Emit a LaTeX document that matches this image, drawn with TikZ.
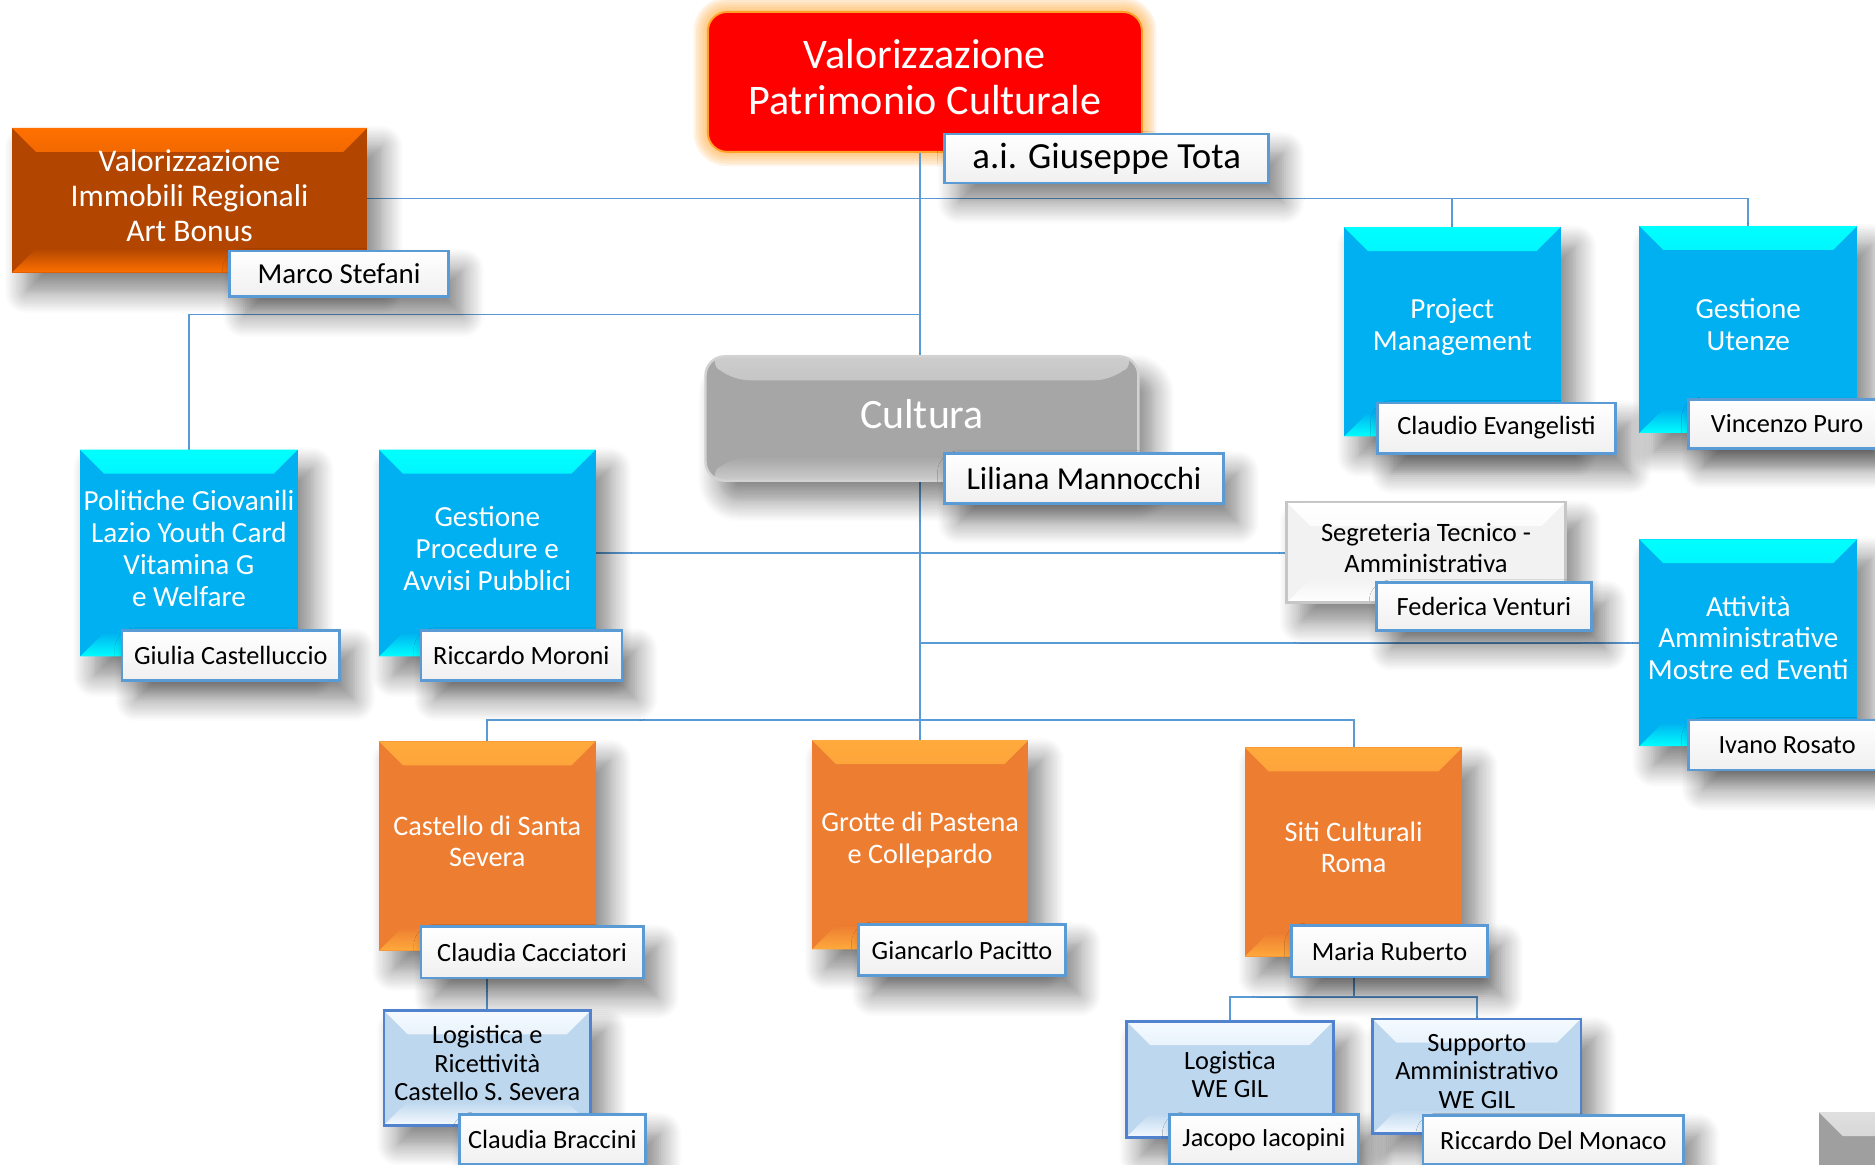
\documentclass[tikz,border=0pt]{standalone}
\usepackage{fontspec}
\setmainfont{Carlito}
\usetikzlibrary{shadows.blur}
\pgfdeclarelayer{bg}
\pgfsetlayers{bg,main}
\definecolor{Ln}{RGB}{91,155,213}
\definecolor{Rd}{RGB}{255,0,0}
\definecolor{Gl}{RGB}{255,160,40}
\definecolor{Ob}{RGB}{178,70,0}
\definecolor{Ol}{RGB}{255,112,0}
\definecolor{Cy}{RGB}{0,176,240}
\definecolor{Cl}{RGB}{0,255,255}
\definecolor{Or}{RGB}{237,125,49}
\definecolor{Oy}{RGB}{255,170,60}
\definecolor{Lb}{RGB}{189,215,238}
\definecolor{Lw}{RGB}{245,250,255}
\definecolor{Lf}{RGB}{80,130,205}
\definecolor{Gy}{RGB}{166,166,166}
\definecolor{Gw}{RGB}{205,205,205}
\definecolor{Sg}{RGB}{242,242,242}
\definecolor{Tg}{RGB}{240,240,240}
\tikzset{
  every node/.style={align=center, inner sep=0pt, outer sep=0pt},
  link/.style={draw=Ln, line width=0.8pt},
  soft/.style={blur shadow={shadow xshift=6pt, shadow yshift=-8pt, shadow blur radius=9pt, shadow blur steps=12, shadow opacity=50}},
  bevel/.style 2 args={fill=#1, path picture={
    \shade[top color=#2, bottom color=#1]
      (path picture bounding box.north west) -- (path picture bounding box.north east)
      -- ([shift={(-10pt,-10pt)}]path picture bounding box.north east)
      -- ([shift={(10pt,-10pt)}]path picture bounding box.north west) -- cycle;
    \shade[top color=#1, bottom color=#2]
      (path picture bounding box.south west) -- (path picture bounding box.south east)
      -- ([shift={(-10pt,10pt)}]path picture bounding box.south east)
      -- ([shift={(10pt,10pt)}]path picture bounding box.south west) -- cycle;
  }},
  namebox/.style={soft, draw=Ln, line width=1.1pt, top color=white, bottom color=Tg, text=black, font=\fontsize{11}{13}\selectfont},
  headbox/.style={fill=Rd, draw=Gl, line width=0.8pt, rounded corners=8pt},
  headbox text/.style={text=white, font=\fontsize{17.6}{19}\selectfont},
  cultbox/.style={soft, bevel={Gy}{Gw}, draw=gray!35, line width=1pt, rounded corners=8pt},
  cultbox text/.style={text=white, font=\fontsize{17.5}{20}\selectfont},
  darkbox/.style={soft, bevel={Ob}{Ol}},
  darkbox text/.style={text=white, font=\fontsize{13.2}{14.5}\selectfont},
  cyanbox/.style={soft, bevel={Cy}{Cl}},
  cyanbox text/.style={text=white, font=\fontsize{12.2}{13.3}\selectfont},
  orangebox/.style={soft, bevel={Or}{Oy}},
  orangebox text/.style={text=white, font=\fontsize{11.8}{13.3}\selectfont},
  lightbox/.style={soft, bevel={Lb}{Lw}, draw=Lf, line width=1.1pt},
  lightbox text/.style={text=black, font=\fontsize{11}{12}\selectfont},
  greybox/.style={soft, bevel={Sg}{white}, draw=gray!45, line width=1pt},
  greybox text/.style={text=black, font=\fontsize{11.1}{13}\selectfont},
  cornerbox/.style={bevel={gray!75}{gray!25}},
  cornerbox text/.style={},
}
\newcommand{\unitbox}[7]{
\node[#1, minimum width={(#5-#3)*0.5pt}, minimum height={(#6-#4)*0.5pt}] (#2) at ({(#3+#5)/2},{(#4+#6)/2}) {};
\node[#1 text] (#2 text) at ([yshift=2pt]#2.center) {#7};
}
\newcommand{\nametag}[7][]{\node[namebox, #1, minimum width={(#5-#3)*0.5pt}, minimum height={(#6-#4)*0.5pt}] (#2) at ({(#3+#5)/2},{(#4+#6)/2}) {#7};}
\newcommand{\drawlink}{\draw[link]}
\begin{document}
\begin{tikzpicture}[x=0.5pt, y=-0.5pt]
\begin{pgfonlayer}{bg}
\fill[white] (0,0) rectangle (1568,974);
\end{pgfonlayer}
\useasboundingbox (0,0) rectangle (1568,974);
\clip (0,0) rectangle (1568,974);
\node[soft, minimum size=2pt] (dummy) at (-200,-200) {};
\coordinate (spine) at (769,0);
\coordinate (bus1) at (769,166);
\coordinate (bus2) at (769,263);
\coordinate (bus3) at (769,602);
\coordinate (bus4) at (1132,834);
\unitbox{headbox}{top}{592}{10}{955}{127}{Valorizzazione\\Patrimonio Culturale}
\nametag[font=\fontsize{15.4}{17}\selectfont]{tota}{790}{112}{1061}{153}{a.i. Giuseppe Tota}
\unitbox{darkbox}{immo}{10}{107}{307}{228}{Valorizzazione\\Immobili Regionali\\Art Bonus}
\nametag[font=\fontsize{12.1}{14}\selectfont]{stef}{192}{210}{375}{248}{Marco Stefani}
\unitbox{cyanbox}{pm}{1124}{190}{1305}{365}{Project\\Management}
\nametag{evan}{1152}{337}{1351}{379}{Claudio Evangelisti}
\unitbox{cyanbox}{ute}{1371}{189}{1553}{362}{Gestione\\Utenze}
\nametag{puro}{1412}{334}{1577}{375}{Vincenzo Puro}
\unitbox{cultbox}{cul}{590}{298}{952}{402}{Cultura}
\nametag[font=\fontsize{13.4}{15}\selectfont]{mann}{790}{379}{1023}{421}{Liliana Mannocchi}
\unitbox{cyanbox}{pol}{67}{376}{249}{549}{Politiche Giovanili\\Lazio Youth Card\\Vitamina G\\e Welfare}
\nametag{gcas}{102}{527}{284}{569}{Giulia Castelluccio}
\unitbox{cyanbox}{gpa}{317}{376}{498}{549}{Gestione\\Procedure e\\Avvisi Pubblici}
\nametag{moro}{352}{527}{520}{569}{Riccardo Moroni}
\unitbox{greybox}{seg}{1076}{420}{1309}{504}{Segreteria Tecnico -\\Amministrativa}
\nametag{vent}{1151}{487}{1331}{527}{Federica Venturi}
\unitbox{cyanbox}{att}{1371}{451}{1553}{624}{Attività\\Amministrative\\Mostre ed Eventi}
\nametag{rosa}{1412}{602}{1577}{644}{Ivano Rosato}
\unitbox{orangebox}{cas}{317}{620}{498}{795}{Castello di Santa\\Severa}
\nametag{cacc}{352}{775}{538}{818}{Claudia Cacciatori}
\unitbox{orangebox}{gro}{679}{619}{860}{794}{Grotte di Pastena\\e Collepardo}
\nametag{paci}{718}{773}{891}{816}{Giancarlo Pacitto}
\unitbox{orangebox}{siti}{1041}{625}{1223}{800}{Siti Culturali\\Roma}
\nametag{rube}{1080}{774}{1244}{817}{Maria Ruberto}
\unitbox{lightbox}{logcs}{321}{845}{494}{941}{Logistica e\\Ricettività\\Castello S. Severa}
\nametag{brac}{384}{932}{540}{974}{Claudia Braccini}
\unitbox{lightbox}{logwe}{942}{854}{1115}{951}{Logistica\\WE GIL}
\nametag{iaco}{978}{932}{1136}{974}{Jacopo Iacopini}
\unitbox{lightbox}{sup}{1148}{852}{1322}{948}{Supporto\\Amministrativo\\WE GIL}
\nametag{delm}{1190}{933}{1408}{974}{Riccardo Del Monaco}
\unitbox{cornerbox}{edge}{1521}{930}{1700}{1100}{}
\begin{pgfonlayer}{bg}
\foreach \g in {2,4,...,12}{
  \draw[Gl, opacity=0.12, line width=\g*1pt, rounded corners=8pt] (top.north west) rectangle (top.south east);
}
\drawlink (top.south -| spine) -- (cul.north -| spine);
\drawlink (immo.east |- bus1) -- (bus1 -| ute.north) -- (ute.north);
\drawlink (bus1 -| pm.north) -- (pm.north);
\drawlink (bus2) -- (bus2 -| pol.north) -- (pol.north);
\drawlink (cul.south -| spine) -- (gro.north -| spine);
\drawlink (gpa.east) -- (gpa.east -| seg.west);
\drawlink (spine |- att.west) -- (att.west);
\drawlink (cas.north) -- (cas.north |- bus3) -- (bus3 -| siti.north) -- (siti.north);
\drawlink (cacc.south -| logcs.north) -- (logcs.north);
\drawlink (rube.south -| bus4) -- (bus4);
\drawlink (logwe.north) -- (logwe.north |- bus4) -- (bus4 -| sup.north) -- (sup.north);
\end{pgfonlayer}
\end{tikzpicture}
\end{document}
